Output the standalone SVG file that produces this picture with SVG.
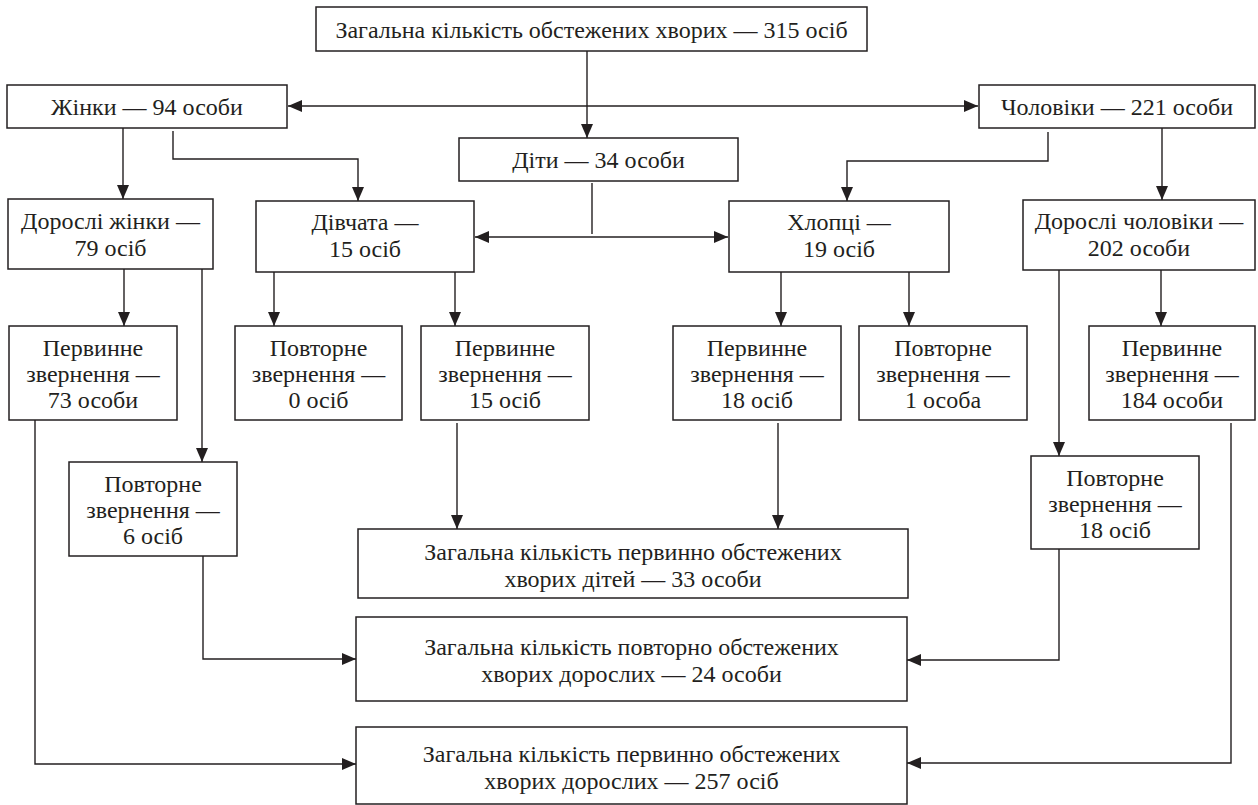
<svg xmlns="http://www.w3.org/2000/svg" width="1258" height="805" viewBox="0 0 1258 805">
<defs>
<marker id="arr" markerUnits="userSpaceOnUse" markerWidth="15" markerHeight="12" refX="14" refY="6" orient="auto-start-reverse">
<path d="M0,0 L14,6 L0,12 Z" fill="#231f20"/>
</marker>
<style>
.box{fill:#fff;stroke:#231f20;stroke-width:1.5}
text{font-family:'Liberation Serif','Times New Roman',serif;font-size:24px;fill:#231f20;text-anchor:middle}
.c{fill:none;stroke:#231f20;stroke-width:1.4}
.a{marker-end:url(#arr)}
.aa{marker-start:url(#arr);marker-end:url(#arr)}
</style>
</defs>
<rect width="1258" height="805" fill="#fff"/>
<g id="connectors">
<path class="c a" d="M587,51 V138"/>
<path class="c aa" d="M288,106 H978"/>
<path class="c a" d="M123,128 V199"/>
<path class="c a" d="M173,131 V159 H358 V201"/>
<path class="c a" d="M1048,132 V161 H847 V201"/>
<path class="c a" d="M1162,128 V200"/>
<path class="c" d="M592,183 V234"/>
<path class="c aa" d="M475,237 H728"/>
<path class="c a" d="M124,269 V326"/>
<path class="c a" d="M202,269 V462"/>
<path class="c a" d="M274,272 V326"/>
<path class="c a" d="M455,272 V326"/>
<path class="c a" d="M781,272 V326"/>
<path class="c a" d="M909,272 V326"/>
<path class="c a" d="M1059,270 V456"/>
<path class="c a" d="M1161,270 V326"/>
<path class="c a" d="M457,423 V529"/>
<path class="c a" d="M778,423 V529"/>
<path class="c a" d="M203,556 V659 H356"/>
<path class="c a" d="M35,420 V764 H356"/>
<path class="c a" d="M1059,549 V660 H907"/>
<path class="c a" d="M1231,423 V763 H907"/>
</g>
<g id="total">
<rect class="box" x="316" y="7" width="551" height="44"/>
<text x="591.5" y="38">Загальна кількість обстежених хворих — 315 осіб</text>
</g>
<g id="women">
<rect class="box" x="7" y="85" width="280" height="43"/>
<text x="147" y="115">Жінки — 94 особи</text>
</g>
<g id="men">
<rect class="box" x="979" y="85" width="276" height="43"/>
<text x="1117" y="115">Чоловіки — 221 особи</text>
</g>
<g id="children">
<rect class="box" x="459" y="138" width="279" height="43"/>
<text x="598.5" y="168">Діти — 34 особи</text>
</g>
<g id="adult-women">
<rect class="box" x="8" y="199" width="205" height="70"/>
<text x="110.5" y="229">Дорослі жінки —</text>
<text x="110.5" y="256">79 осіб</text>
</g>
<g id="girls">
<rect class="box" x="256" y="201" width="218" height="71"/>
<text x="365" y="230">Дівчата —</text>
<text x="365" y="257">15 осіб</text>
</g>
<g id="boys">
<rect class="box" x="729" y="201" width="220" height="71"/>
<text x="839" y="230">Хлопці —</text>
<text x="839" y="257">19 осіб</text>
</g>
<g id="adult-men">
<rect class="box" x="1023" y="200" width="232" height="70"/>
<text x="1139" y="229">Дорослі чоловіки —</text>
<text x="1139" y="256">202 особи</text>
</g>
<g id="w-primary">
<rect class="box" x="9" y="326" width="168" height="94"/>
<text x="93" y="356">Первинне</text>
<text x="93" y="382">звернення —</text>
<text x="93" y="408">73 особи</text>
</g>
<g id="g-repeat">
<rect class="box" x="235" y="326" width="167" height="94"/>
<text x="318.5" y="356">Повторне</text>
<text x="318.5" y="382">звернення —</text>
<text x="318.5" y="408">0 осіб</text>
</g>
<g id="g-primary">
<rect class="box" x="421" y="326" width="168" height="94"/>
<text x="505" y="356">Первинне</text>
<text x="505" y="382">звернення —</text>
<text x="505" y="408">15 осіб</text>
</g>
<g id="b-primary">
<rect class="box" x="673" y="326" width="168" height="94"/>
<text x="757" y="356">Первинне</text>
<text x="757" y="382">звернення —</text>
<text x="757" y="408">18 осіб</text>
</g>
<g id="b-repeat">
<rect class="box" x="859" y="326" width="168" height="94"/>
<text x="943" y="356">Повторне</text>
<text x="943" y="382">звернення —</text>
<text x="943" y="408">1 особа</text>
</g>
<g id="m-primary">
<rect class="box" x="1089" y="326" width="166" height="94"/>
<text x="1172" y="356">Первинне</text>
<text x="1172" y="382">звернення —</text>
<text x="1172" y="408">184 особи</text>
</g>
<g id="w-repeat">
<rect class="box" x="69" y="462" width="168" height="94"/>
<text x="153" y="492">Повторне</text>
<text x="153" y="518">звернення —</text>
<text x="153" y="544">6 осіб</text>
</g>
<g id="m-repeat">
<rect class="box" x="1031" y="456" width="168" height="93"/>
<text x="1115" y="486">Повторне</text>
<text x="1115" y="512">звернення —</text>
<text x="1115" y="538">18 осіб</text>
</g>
<g id="children-primary-total">
<rect class="box" x="358" y="529" width="550" height="69"/>
<text x="633" y="560">Загальна кількість первинно обстежених</text>
<text x="633" y="587">хворих дітей — 33 особи</text>
</g>
<g id="adults-repeat-total">
<rect class="box" x="356" y="617" width="551" height="84"/>
<text x="631.5" y="655">Загальна кількість повторно обстежених</text>
<text x="631.5" y="682">хворих дорослих — 24 особи</text>
</g>
<g id="adults-primary-total">
<rect class="box" x="356" y="727" width="551" height="77"/>
<text x="631.5" y="762">Загальна кількість первинно обстежених</text>
<text x="631.5" y="789">хворих дорослих — 257 осіб</text>
</g>
</svg>
